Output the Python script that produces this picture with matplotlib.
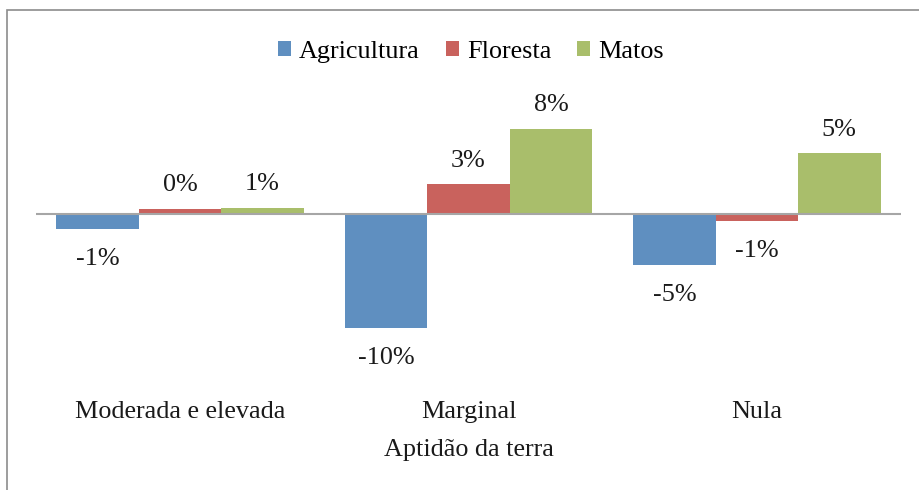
import matplotlib.pyplot as plt
import numpy as np
from matplotlib.patches import Rectangle

categories = ['Moderada e elevada', 'Marginal', 'Nula']
series = ['Agricultura', 'Floresta', 'Matos']
agricultura = [-1.35, -10.27, -4.6]
floresta = [0.45, 2.67, -0.63]
matos = [0.54, 7.68, 5.46]
colors = ['#5F8FC0', '#C9625D', '#A9BE6B']

plt.rcParams['font.family'] = ['Liberation Serif', 'DejaVu Serif']

W, H = 920, 490
fig = plt.figure(figsize=(W / 100, H / 100), dpi=100)
# axes in pixel terms: left 36, right 901, top 80, bottom 390
ax = fig.add_axes([36 / W, 1 - 390 / H, 865 / W, 310 / H])

# outer chart frame (runs off the right and bottom edges)
fig.patches.append(Rectangle((7 / W, -0.1), 1.2, 1 - 10 / H + 0.1,
                             transform=fig.transFigure, fill=False,
                             edgecolor='#8C8C8C', linewidth=1.2))

x = np.arange(len(categories))
width = 0.286
fs = 18.8

for i, (name, vals) in enumerate(zip(series, [agricultura, floresta, matos])):
    pos = x + (i - 1) * width
    ax.bar(pos, vals, width, color=colors[i], label=name, zorder=2)
    for p, v in zip(pos, vals):
        off = 17 if v >= 0 else -21.5
        ax.annotate(f'{round(v):d}%', (p, v), xytext=(0, off),
                    textcoords='offset points', ha='center', va='center',
                    fontsize=fs, color='#1a1a1a')

ax.axhline(0, color='#A6A6A6', linewidth=1.5, zorder=3)
ax.set_xlim(-0.5, 2.5)
ax.set_ylim(-(390 - 214) / 11.1, (214 - 80) / 11.1)
ax.set_yticks([])
ax.set_xticks(x)
ax.set_xticklabels(categories, fontsize=fs, color='#1a1a1a')
ax.tick_params(axis='x', length=0, pad=8)
for s in ax.spines.values():
    s.set_visible(False)

ax.set_xlabel('Aptidão da terra', fontsize=fs, color='#1a1a1a')
ax.xaxis.set_label_coords(0.5, -(450 - 390) / 310)
ax.xaxis.label.set_va('center')

leg = fig.legend(loc='center', bbox_to_anchor=(471 / W, 1 - 52 / H), ncol=3,
                 frameon=False, fontsize=fs, handlelength=0.5,
                 handleheight=0.5, handletextpad=0.3, columnspacing=1.0)

fig.savefig('out.png', dpi=100)
